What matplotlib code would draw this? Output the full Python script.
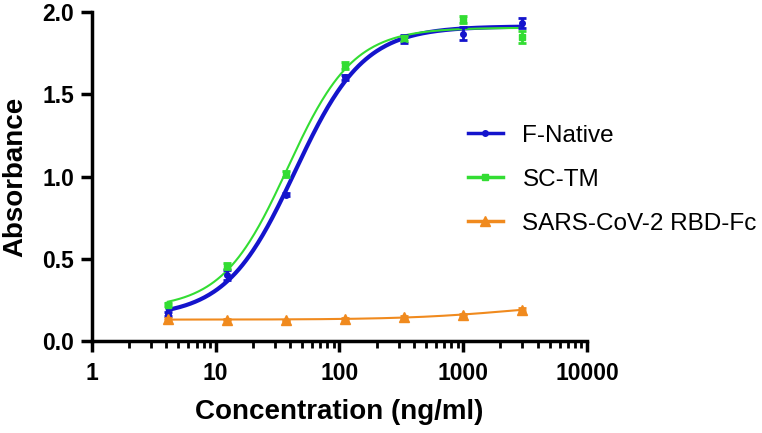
import numpy as np
import matplotlib
matplotlib.use("Agg")
import matplotlib.pyplot as plt
from matplotlib.ticker import LogLocator, FixedLocator, NullFormatter

plt.rcParams['font.family'] = ['Liberation Sans', 'DejaVu Sans']

conc = [4.1, 12.3, 37, 111, 333, 1000, 3000]

f_native = [0.165, 0.40, 0.89, 1.605, 1.835, 1.87, 1.935]
f_native_err = [0.01, 0.03, 0.01, 0.015, 0.025, 0.04, 0.03]

sc_tm = [0.22, 0.455, 1.015, 1.675, 1.84, 1.955, 1.85]
sc_tm_err = [0.01, 0.02, 0.02, 0.02, 0.015, 0.02, 0.035]

rbd_fc = [0.135, 0.13, 0.125, 0.135, 0.145, 0.16, 0.19]
rbd_fc_err = [0.005, 0.005, 0.005, 0.005, 0.005, 0.005, 0.008]


def fit_4pl(x, y):
    # grid over logEC50 and hill, linear least squares for bottom/top
    lx = np.log10(np.asarray(x, float))
    y = np.asarray(y, float)
    best = None
    for lec in np.linspace(0, 5, 251):
        for h in np.linspace(0.3, 3, 136):
            f = 1.0 / (1.0 + 10 ** ((lec - lx) * h))
            A = np.column_stack([1 - f, f])
            coef, *_ = np.linalg.lstsq(A, y, rcond=None)
            r = np.sum((A @ coef - y) ** 2)
            if best is None or r < best[0]:
                best = (r, coef[0], coef[1], lec, h)
    return best[1:]


def curve(params, xs):
    bottom, top, lec, h = params
    f = 1.0 / (1.0 + 10 ** ((lec - np.log10(xs)) * h))
    return bottom + (top - bottom) * f


fig = plt.figure(figsize=(7.62, 4.33), dpi=100)
ax = fig.add_axes([0.1207, 0.2125, 0.6496, 0.7595])

xs = np.logspace(np.log10(conc[0]), np.log10(conc[-1]), 300)

series = [
    ("F-Native", f_native, f_native_err, "#1414CC", "o", 3.0, 4),
    ("SC-TM", sc_tm, sc_tm_err, "#33DD33", "s", 1.5, 5),
    ("SARS-CoV-2 RBD-Fc", rbd_fc, rbd_fc_err, "#F08A1E", "^", 1.5, 7),
]

for name, ys, err, col, mk, lw, ms in series:
    p = fit_4pl(conc, ys)
    ax.plot(xs, curve(p, xs), color=col, lw=lw, zorder=3)
    ax.errorbar(conc, ys, yerr=err, fmt=mk, color=col, ms=ms, capsize=3,
                elinewidth=2, capthick=2, zorder=4)
    ax.plot([], [], color=col, lw=lw, marker=mk, ms=ms, label=name)

ax.set_xscale("log")
ax.set_xlim(1, 10000)
ax.set_ylim(0, 2.0)
ax.xaxis.set_major_locator(FixedLocator([1, 10, 100, 1000, 10000]))
ax.set_xticklabels(["1", "10", "100", "1000", "10000"])
ax.xaxis.set_minor_locator(LogLocator(base=10, subs=np.arange(2, 10), numticks=20))
ax.xaxis.set_minor_formatter(NullFormatter())
ax.set_yticks([0.0, 0.5, 1.0, 1.5, 2.0])
ax.set_yticklabels(["0.0", "0.5", "1.0", "1.5", "2.0"])

for s in ["top", "right"]:
    ax.spines[s].set_visible(False)
for s in ["left", "bottom"]:
    ax.spines[s].set_linewidth(2.5)
ax.tick_params(axis="both", which="major", width=2.5, length=8, labelsize=16.5)
ax.tick_params(axis="x", which="minor", width=2, length=5)
for lab in ax.get_xticklabels() + ax.get_yticklabels():
    lab.set_fontweight("bold")
ax.xaxis.set_tick_params(pad=7)
ax.yaxis.set_tick_params(pad=5)

ax.set_xlabel("Concentration (ng/ml)", fontsize=20, fontweight="bold", labelpad=10)
ax.set_ylabel("Absorbance", fontsize=20, fontweight="bold", labelpad=10)

leg = ax.legend(loc="center left", bbox_to_anchor=(0.715, 0.49), frameon=False,
                fontsize=17.5, handlelength=1.45, handletextpad=0.8, labelspacing=0.9)
for line in leg.get_lines():
    line.set_linewidth(2.5)

plt.savefig("out.png", dpi=100)
